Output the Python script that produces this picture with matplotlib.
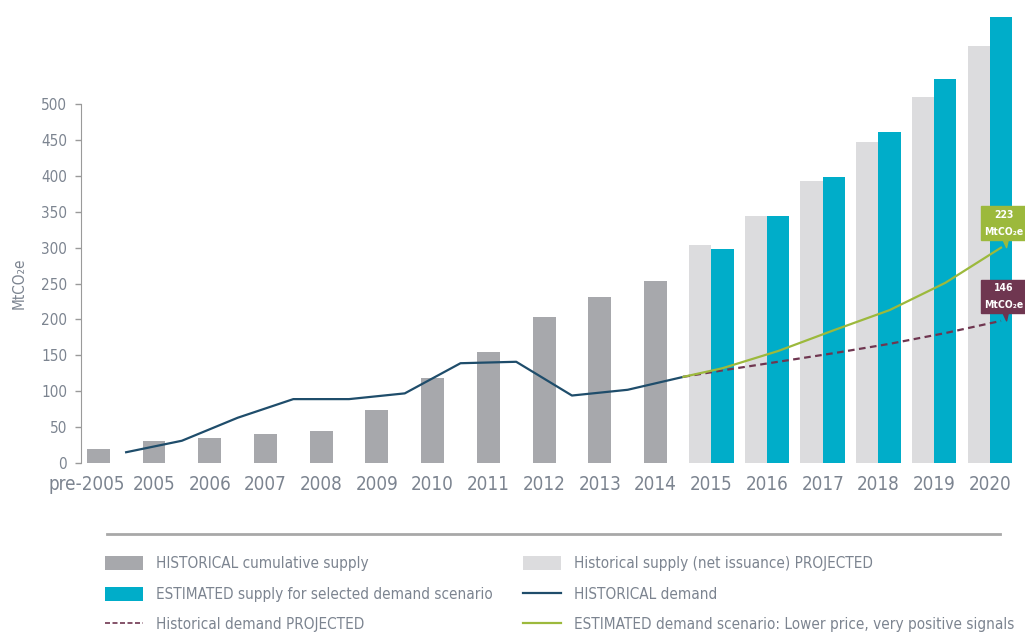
import matplotlib.pyplot as plt
import matplotlib as mpl
import matplotlib.transforms as mtransforms
import numpy as np
from matplotlib.patches import Patch
from matplotlib.lines import Line2D

# 数据
years = ['pre-2005', '2005', '2006', '2007', '2008', '2009', '2010', '2011',
         '2012', '2013', '2014', '2015', '2016', '2017', '2018', '2019', '2020']
hist_supply = [20, 30, 35, 40, 45, 74, 118, 155, 204, 231, 253]          # pre-2005 .. 2014
proj_supply = [303, 344, 393, 447, 510, 581]                             # 2015 .. 2020
est_supply = [298, 344, 398, 461, 535, 621]                              # 2015 .. 2020
hist_demand = [15, 31, 63, 89, 89, 97, 139, 141, 94, 102, 120]           # between years
demand_projected = [120, 129, 141, 153, 166, 181, 198]                   # 2014 end, 2015 .. 2020
demand_scenario = [120, 132, 156, 185, 213, 251, 300]                    # 2014 end, 2015 .. 2020
yticks = [0, 50, 100, 150, 200, 250, 300, 350, 400, 450, 500]

c_hist = '#a7a8ac'
c_proj = '#dcdcde'
c_est = '#00adc9'
c_dem = '#1f4d6b'
c_purple = '#6f3650'
c_green = '#9cb93c'
c_text = '#7c8490'

mpl.rcParams['font.family'] = ['DejaVu Sans']
mpl.rcParams['font.stretch'] = 'condensed'

fig = plt.figure(figsize=(10.25, 6.36), dpi=100)
ax = fig.add_axes([81 / 1025, (636 - 463) / 636, 944 / 1025, 463 / 636])

x = np.arange(len(years))
n_hist = len(hist_supply)
bw = 0.41

# 柱状图
ax.bar(x[:n_hist], hist_supply, width=bw, color=c_hist, zorder=2)
ax.bar(x[n_hist:] - 0.2, proj_supply, width=0.4, color=c_proj, zorder=2)
ax.bar(x[n_hist:] + 0.2, est_supply, width=0.4, color=c_est, zorder=2)

# 折线
xd = np.arange(len(hist_demand)) + 0.5
ax.plot(xd, hist_demand, color=c_dem, lw=1.6, zorder=4)
xp = np.concatenate([[xd[-1]], x[n_hist:] + 0.2])
ax.plot(xp, demand_projected, color=c_purple, lw=1.6, ls=(0, (3, 2)), zorder=4)
ax.plot(xp, demand_scenario, color=c_green, lw=1.6, zorder=4)

# 标注
for val, yv, col in [('223', demand_scenario[-1], c_green),
                     ('146', demand_projected[-1], c_purple)]:
    ax.annotate(val + '\nMtCO₂e', xy=(xp[-1] + 0.1, yv), xytext=(-2, 8),
                textcoords='offset points', ha='center', va='bottom',
                color='white', fontsize=7.5, fontweight='bold', linespacing=1.8,
                bbox=dict(boxstyle='square,pad=0.35', fc=col, ec=col),
                arrowprops=dict(arrowstyle='wedge,tail_width=0.45,shrink_factor=0.5',
                                fc=col, ec=col, shrinkA=0, shrinkB=0),
                zorder=6, annotation_clip=False)

ax.set_xlim(-0.31, 16.63)
ax.set_ylim(0, 645)
ax.set_xticks(x)
ax.set_xticklabels(years, fontsize=13.5, color=c_text)
ax.tick_params(axis='x', length=0, pad=9)
# pre-2005 标签略向左
lab0 = ax.get_xticklabels()[0]
lab0.set_transform(lab0.get_transform() +
                   mtransforms.ScaledTranslation(-12 / 100, 0, fig.dpi_scale_trans))
ax.set_yticks(yticks)
ax.tick_params(axis='y', length=4, width=1, color='#9a9a9a', labelsize=11,
               labelcolor=c_text, pad=6)
for s in ['top', 'right', 'bottom']:
    ax.spines[s].set_visible(False)
ax.spines['left'].set_bounds(0, 500)
ax.spines['left'].set_color('#9a9a9a')
ax.set_ylabel('MtCO₂e', fontsize=11, color=c_text)
ax.yaxis.set_label_coords(-0.058, 250 / 645)

# 分隔线
fig.add_artist(Line2D([107 / 1025, 1000 / 1025], [1 - 534 / 636, 1 - 534 / 636],
                      color='#a8a8a8', lw=2))

# 图例
left_items = [Patch(fc=c_hist), Patch(fc=c_est),
              Line2D([], [], color=c_purple, lw=1.2, ls=(0, (3, 1.5)))]
left_labels = ['HISTORICAL cumulative supply',
               'ESTIMATED supply for selected demand scenario',
               'Historical demand PROJECTED']
right_items = [Patch(fc=c_proj), Line2D([], [], color=c_dem, lw=1.6),
               Line2D([], [], color=c_green, lw=1.6)]
right_labels = ['Historical supply (net issuance) PROJECTED',
                'HISTORICAL demand',
                'ESTIMATED demand scenario: Lower price, very positive signals']
for items, labels, x0 in [(left_items, left_labels, 105), (right_items, right_labels, 523)]:
    leg = fig.legend(items, labels, loc='upper left',
                     bbox_to_anchor=(x0 / 1025, 1 - 556 / 636),
                     frameon=False, fontsize=11, handlelength=2.5, handleheight=1.05,
                     handletextpad=0.85, labelspacing=1.0, borderpad=0, borderaxespad=0)
    for t in leg.get_texts():
        t.set_color(c_text)

plt.savefig('out.png', dpi=100)
plt.close()
